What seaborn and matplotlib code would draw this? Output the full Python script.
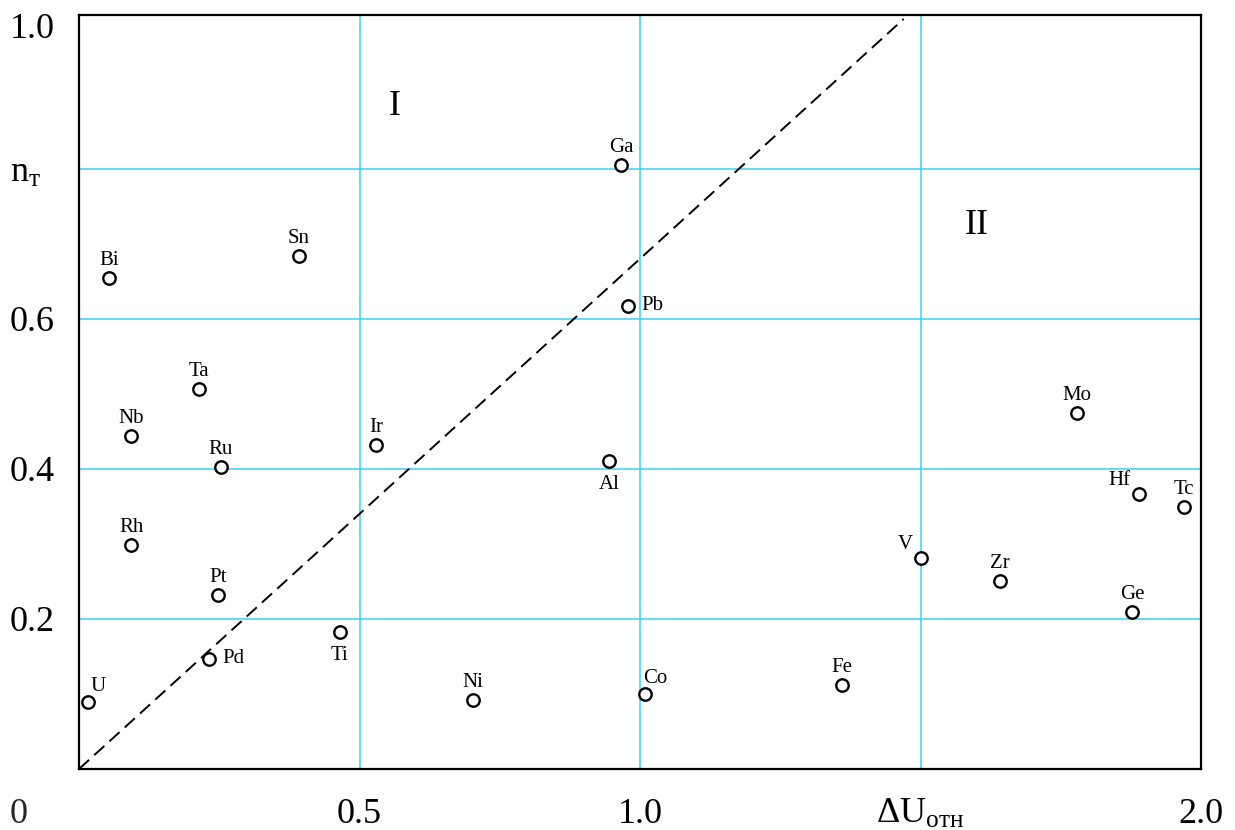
import matplotlib
matplotlib.use("Agg")
import matplotlib.pyplot as plt
import matplotlib.transforms as mtransforms
import pandas as pd
import seaborn as sns

# data
elements = ["U", "Bi", "Sn", "Ta", "Nb", "Ru", "Rh", "Pt", "Pd", "Ti", "Ir", "Ni",
            "Ga", "Pb", "Al", "Co", "Fe", "V", "Zr", "Mo", "Hf", "Tc", "Ge"]
du_rel = [0.016, 0.053, 0.392, 0.214, 0.093, 0.253, 0.093, 0.248, 0.232, 0.465, 0.529, 0.702,
          0.966, 0.979, 0.945, 1.009, 1.360, 1.501, 1.642, 1.779, 1.889, 1.969, 1.877]
n_t = [0.089, 0.655, 0.684, 0.507, 0.444, 0.403, 0.299, 0.232, 0.147, 0.183, 0.432, 0.092,
       0.805, 0.617, 0.411, 0.100, 0.112, 0.281, 0.251, 0.475, 0.367, 0.349, 0.209]
label_side = ["upright", "above", "above", "above", "above", "above", "above", "above",
              "right", "below", "above", "above", "above", "right", "below", "upright",
              "above", "upleft", "above", "above", "upleft", "above", "above"]

boundary_x = [0.0, 1.47]
boundary_y = [0.0, 1.0]

regions = ["I", "II"]
region_x = [0.563, 1.601]
region_y = [0.883, 0.725]

x_ticks = [0.5, 1.0, 1.5, 2.0]
x_tick_labels = ["0.5", "1.0", r"ΔU$_{\mathrm{отн}}$", "2.0"]
y_ticks = [0.2, 0.4, 0.6, 0.8, 1.0]
y_tick_labels = ["0.2", "0.4", "0.6", r"n$_{\mathrm{т}}$", "1.0"]

df = pd.DataFrame({"element": elements, "du": du_rel, "n": n_t, "side": label_side})

sns.set_theme(style="white")
plt.rcParams["font.family"] = ["Liberation Serif", "DejaVu Serif"]
plt.rcParams["mathtext.fontset"] = "custom"
plt.rcParams["mathtext.rm"] = "Liberation Serif"
plt.rcParams["mathtext.it"] = "Liberation Serif:italic"

grid_color = "#40CFF0"
big = 26

fig, ax = plt.subplots(figsize=(12.35, 8.3), dpi=100)
fig.subplots_adjust(left=79 / 1235, right=1201 / 1235, bottom=1 - 769 / 830, top=1 - 15 / 830)

sns.lineplot(x=boundary_x, y=boundary_y, ax=ax, color="black", lw=1.4,
             dashes=False, linestyle=(0, (7, 3.6)), zorder=2)
sns.scatterplot(data=df, x="du", y="n", ax=ax, s=80, facecolor="white",
                edgecolor="black", linewidth=1.7, zorder=3)

# label offsets in pixels (dx, dy, ha)
offsets = {
    "above": (0, 13, "center"),
    "below": (0, -28, "center"),
    "right": (13, -4, "left"),
    "upleft": (-8, 9, "right"),
    "upright": (10, 11, "center"),
}
for _, r in df.iterrows():
    dx, dy, ha = offsets[r["side"]]
    ax.annotate(r["element"], (r["du"], r["n"]), xytext=(dx, dy),
                textcoords="offset pixels", ha=ha, va="baseline",
                fontsize=15, color="black")

for name, rx, ry in zip(regions, region_x, region_y):
    ax.text(rx, ry, name, ha="center", va="center", fontsize=big, color="black")

ax.set_xlim(0, 2.0)
ax.set_ylim(0, 1.0053)
ax.set_xticks(x_ticks, x_tick_labels)
ax.set_yticks(y_ticks, y_tick_labels)
ax.tick_params(axis="both", length=0, labelsize=big, colors="black")
ax.tick_params(axis="x", pad=21)
ax.tick_params(axis="y", pad=49.7)
for lab in ax.get_yticklabels():
    lab.set_horizontalalignment("left")
# top label sits a little below the frame in the reference
top_lab = ax.get_yticklabels()[-1]
top_lab.set_transform(top_lab.get_transform()
                      + mtransforms.ScaledTranslation(0, -7 / 100, fig.dpi_scale_trans))

ax.annotate("0", (0, 0), xycoords="axes fraction", xytext=(-69, -29),
            textcoords="offset pixels", ha="left", va="top", fontsize=big)

ax.set_xlabel("")
ax.set_ylabel("")
ax.grid(True, color=grid_color, lw=1.1)
ax.get_ygridlines()[-1].set_visible(False)
ax.set_axisbelow(True)
for sp in ax.spines.values():
    sp.set_color("black")
    sp.set_linewidth(1.6)

fig.savefig("out.png", dpi=100, facecolor="white")
